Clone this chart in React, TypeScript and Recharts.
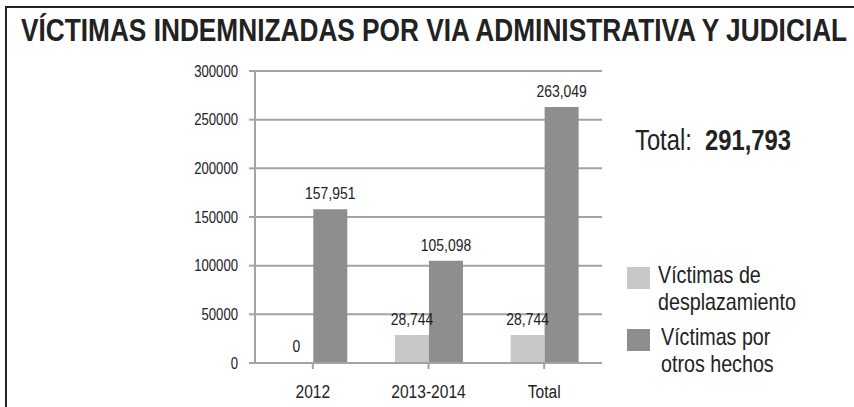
import React from "react";
import { BarChart, Bar, XAxis, YAxis, CartesianGrid, LabelList } from "recharts";

const periods = ["2012", "2013-2014", "Total"];
const desplazamiento = [0, 28744, 28744];
const otrosHechos = [157951, 105098, 263049];
const yTicks = [0, 50000, 100000, 150000, 200000, 250000, 300000];
const grandTotal = "291,793";

const data = periods.map((p, i) => ({
  name: p,
  desplazamiento: desplazamiento[i],
  otros: otrosHechos[i],
}));

// no Arial Narrow here, so squeeze Liberation Sans instead
const FONT = "'Liberation Sans', Arial, sans-serif";
const SQUEEZE = 0.82;
const INK = "#222";
const AXIS = "#a3a3a3";

const fmt = (v: any) => Number(v).toLocaleString("en-US");

const Narrow = ({ children, style }: { children: React.ReactNode; style: React.CSSProperties }) => (
  <div
    style={{
      position: "absolute",
      fontFamily: FONT,
      color: INK,
      whiteSpace: "nowrap",
      transform: `scaleX(${SQUEEZE})`,
      transformOrigin: "left top",
      ...style,
    }}
  >
    {children}
  </div>
);

const XTick = ({ x, y, payload }: any) => (
  <text
    transform={`translate(${x},${y}) scale(${SQUEEZE},1)`}
    textAnchor="middle"
    dy="0.71em"
    fill={INK}
    fontSize={19}
    fontFamily={FONT}
  >
    {payload.value}
  </text>
);

const YTick = ({ x, y, payload }: any) => (
  <text
    transform={`translate(${x},${y}) scale(${SQUEEZE},1)`}
    textAnchor="end"
    dy="0.355em"
    fill={INK}
    fontSize={16}
    fontFamily={FONT}
  >
    {payload.value}
  </text>
);

const BarValue = ({ x, y, width, value }: any) => (
  <text
    transform={`translate(${Number(x) + Number(width) / 2},${Number(y) - 10}) scale(${SQUEEZE},1)`}
    textAnchor="middle"
    fill={INK}
    fontSize={17}
    fontFamily={FONT}
  >
    {fmt(value)}
  </text>
);

function LegendRow({ color, top, lines, textLeft }: { color: string; top: number; lines: string[]; textLeft: number }) {
  return (
    <>
      <div style={{ position: "absolute", left: 627, top, width: 23, height: 22, background: color }} />
      <Narrow style={{ left: textLeft, top: top - 6, fontSize: 24, lineHeight: "27px" }}>
        {lines.map((l) => (
          <div key={l}>{l}</div>
        ))}
      </Narrow>
    </>
  );
}

export default function App() {
  return (
    <div
      style={{
        position: "absolute",
        left: 0,
        top: 0,
        width: 854,
        height: 407,
        background: "#fff",
        overflow: "hidden",
      }}
    >
      {/* frame */}
      <div
        style={{
          position: "absolute",
          left: 5,
          top: 6,
          width: 900,
          height: 500,
          borderTop: `2px solid ${INK}`,
          borderLeft: `2px solid ${INK}`,
        }}
      />
      <Narrow style={{ left: 21, top: 12, fontWeight: "bold", fontSize: 32 }}>
        VÍCTIMAS INDEMNIZADAS POR VIA ADMINISTRATIVA Y JUDICIAL
      </Narrow>

      <div style={{ position: "absolute", left: 0, top: 0 }}>
        <BarChart
          width={854}
          height={407}
          data={data}
          margin={{ top: 71, right: 252, bottom: 14, left: 195 }}
          barCategoryGap="21%"
          barGap={0}
        >
          <CartesianGrid vertical={false} stroke={AXIS} strokeWidth={2} />
          <Bar dataKey="desplazamiento" fill="#c8c8c8" minPointSize={1} isAnimationActive={false}>
            <LabelList dataKey="desplazamiento" content={<BarValue />} />
          </Bar>
          <Bar dataKey="otros" fill="#8e8e8e" isAnimationActive={false}>
            <LabelList dataKey="otros" content={<BarValue />} />
          </Bar>
          <XAxis
            dataKey="name"
            height={30}
            axisLine={{ stroke: AXIS, strokeWidth: 2 }}
            tickLine={{ stroke: AXIS, strokeWidth: 2 }}
            tickSize={6}
            tickMargin={16}
            interval={0}
            tick={<XTick />}
          />
          <YAxis
            width={60}
            domain={[0, 300000]}
            ticks={yTicks}
            axisLine={{ stroke: AXIS, strokeWidth: 2 }}
            tickLine={{ stroke: AXIS, strokeWidth: 2 }}
            tickSize={6}
            tickMargin={11}
            tick={<YTick />}
          />
        </BarChart>
      </div>

      <Narrow style={{ left: 635, top: 124, fontSize: 29 }}>
        Total:&nbsp; <b>{grandTotal}</b>
      </Narrow>

      <LegendRow color="#c8c8c8" top={267} textLeft={658} lines={["Víctimas de", "desplazamiento"]} />
      <LegendRow color="#8e8e8e" top={329} textLeft={661} lines={["Víctimas por", "otros hechos"]} />
    </div>
  );
}
